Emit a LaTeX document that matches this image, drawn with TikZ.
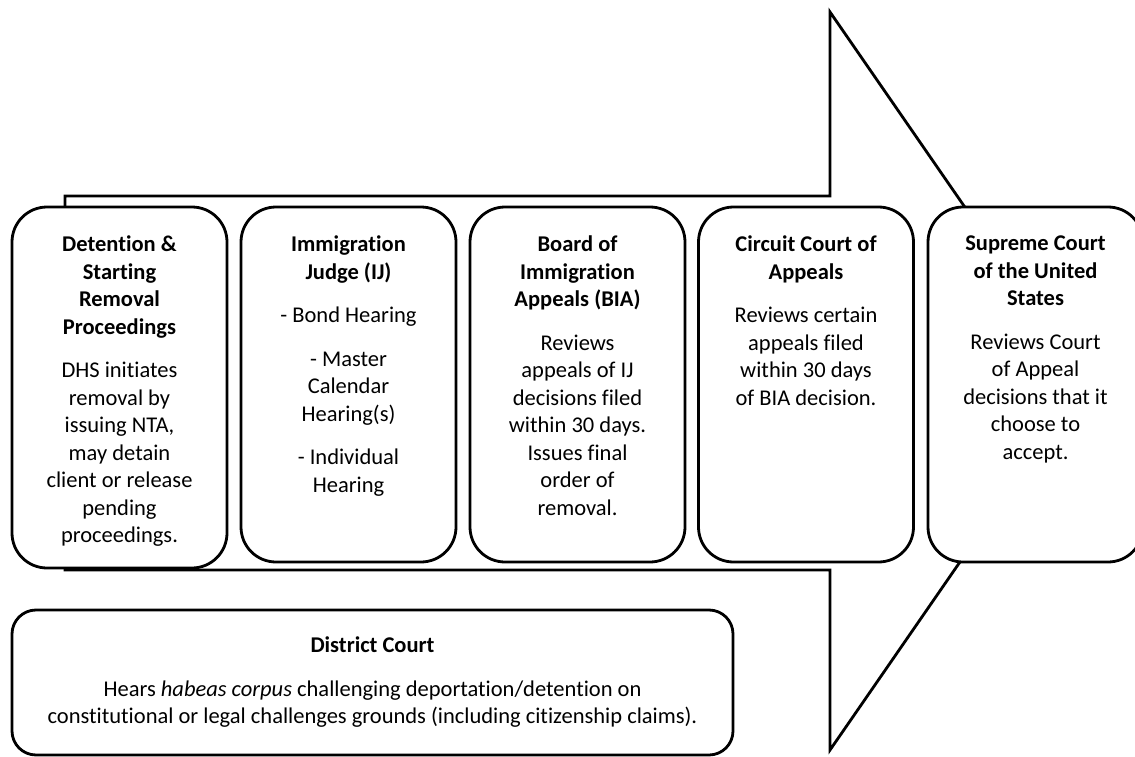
\documentclass[tikz,border=0pt]{standalone}
\usepackage{fontspec}
\setmainfont{Carlito}[Ligatures=NoCommon]
\usetikzlibrary{calc, positioning}
\tikzset{
  font=\fontsize{22.5}{27.5}\selectfont,
  % Big arrow behind the boxes
  flow/.style={draw, line width=2.8pt, line join=miter},
  % Court box
  court/.style={draw, fill=white, line width=2.8pt, rounded corners=35pt,
    minimum width=215pt, minimum height=355pt, inner sep=0pt},
  % Wide court box
  wcourt/.style={court, rounded corners=24pt, minimum width=721pt,
    minimum height=145pt},
  % Box text
  txt/.style={align=center, inner sep=0pt},
}
\newcommand{\pgap}{\\[16pt]}

\begin{document}
\begin{tikzpicture}[x=1pt, y=-1pt]
  \useasboundingbox (0,0) rectangle (1135,757);

  \draw[flow] (65,196) -- (830,196) -- (830,12) -- (1085,381)
    -- (830,750) -- (830,570) -- (65,570) -- cycle;

  \node[court, minimum height=361pt] (detain) at (119.5,387.5) {};
  \node[court] (judge) at (348.5,384.5) {};
  \node[court] (bia) at (577.5,384.5) {};
  \node[court] (circuit) at (806,384.5) {};
  \node[court] (supreme) at (1035.5,384.5) {};
  \node[wcourt] (district) at (372.5,682.5) {};

  \node[txt, below=30pt of detain.north] (detain-txt)
    {\textbf{Detention \&}\\\textbf{Starting}\\\textbf{Removal}\\\textbf{Proceedings}\pgap
     DHS initiates\\removal by\\issuing NTA,\\may detain\\client or release\\pending\\proceedings.};
  \node[txt, below=30pt of judge.north] (judge-txt)
    {\textbf{Immigration}\\\textbf{Judge (IJ)}\pgap
     - Bond Hearing\pgap
     - Master\\Calendar\\Hearing(s)\pgap
     - Individual\\Hearing};
  \node[txt, below=30pt of bia.north] (bia-txt)
    {\textbf{Board of}\\\textbf{Immigration}\\\textbf{Appeals (BIA)}\pgap
     Reviews\\appeals of IJ\\decisions filed\\within 30 days.\\Issues final\\order of\\removal.};
  \node[txt, below=30pt of circuit.north] (circuit-txt)
    {\textbf{Circuit Court of}\\\textbf{Appeals}\pgap
     Reviews certain\\appeals filed\\within 30 days\\of BIA decision.};
  \node[txt, below=30pt of supreme.north] (supreme-txt)
    {\textbf{Supreme Court}\\\textbf{of the United}\\\textbf{States}\pgap
     Reviews Court\\of Appeal\\decisions that it\\choose to\\accept.};
  \node[txt] (district-txt) at (district.center)
    {\textbf{District Court}\pgap
     Hears \textit{habeas corpus} challenging deportation/detention on\\
     constitutional or legal challenges grounds (including citizenship claims).};
\end{tikzpicture}
\end{document}
